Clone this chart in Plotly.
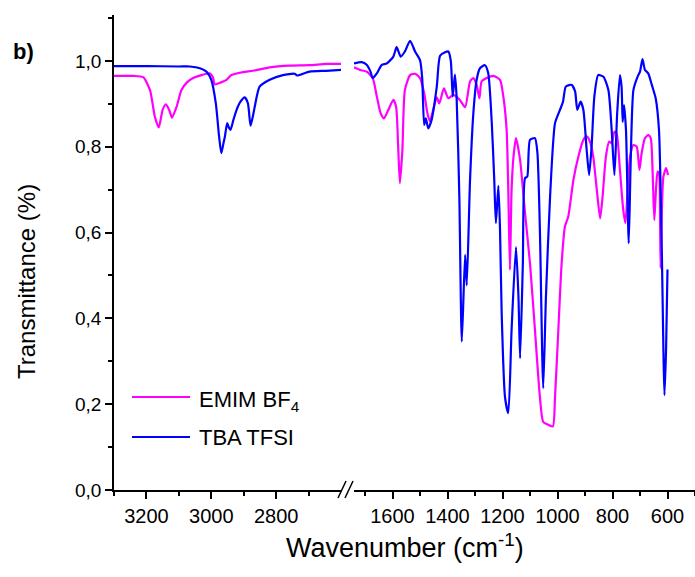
import plotly.graph_objects as go

# ---------------- data ----------------
# High-wavenumber panel (3300-2600 cm-1)
emim_hi_wn = [3300, 3240, 3210, 3189, 3174, 3162, 3150, 3140, 3130, 3121, 3107, 3092, 3075, 3056,
              3030, 3005, 2995, 2989, 2970, 2953, 2938, 2902, 2871, 2820, 2758, 2697, 2646, 2600]
emim_hi_t = [0.965, 0.965, 0.962, 0.932, 0.870, 0.845, 0.886, 0.899, 0.886, 0.868, 0.893, 0.932, 0.950, 0.960,
             0.967, 0.971, 0.962, 0.945, 0.950, 0.956, 0.967, 0.974, 0.977, 0.985, 0.989, 0.990, 0.993, 0.993]

tba_hi_wn = [3300, 3200, 3100, 3066, 3035, 3015, 3000, 2986, 2976, 2969, 2962, 2958, 2951, 2946, 2941,
             2932, 2922, 2910, 2897, 2887, 2879, 2872, 2866, 2851, 2820, 2779, 2743, 2735, 2697, 2646, 2600]
tba_hi_t = [0.988, 0.988, 0.987, 0.987, 0.983, 0.975, 0.956, 0.901, 0.824, 0.785, 0.810, 0.824, 0.855, 0.845, 0.839,
            0.862, 0.886, 0.905, 0.915, 0.901, 0.849, 0.870, 0.893, 0.940, 0.956, 0.967, 0.970, 0.966, 0.975, 0.977, 0.979]

# Fingerprint panel (1740-600 cm-1)
emim_lo_wn = [1740, 1718, 1694, 1672, 1657, 1643, 1631, 1615, 1597, 1587, 1579, 1573, 1564, 1555, 1536, 1518,
              1500, 1485, 1473, 1464, 1452, 1439, 1430, 1413, 1397, 1379, 1355, 1336, 1318, 1306, 1294, 1284,
              1276, 1257, 1233, 1209, 1197, 1185, 1179, 1173, 1167, 1160, 1151, 1136, 1118, 1100, 1082, 1064,
              1052, 1033, 1017, 1009, 997, 985, 973, 961, 942, 924, 906, 894, 882, 870, 857, 845, 836, 824,
              812, 803, 793, 785, 773, 761, 753, 745, 736, 724, 712, 702, 694, 682, 670, 661, 654, 648, 642,
              636, 631, 627, 625, 621, 615, 605, 598]
emim_lo_t = [0.985, 0.979, 0.975, 0.960, 0.917, 0.878, 0.866, 0.886, 0.909, 0.893, 0.793, 0.715, 0.793, 0.932, 0.967, 0.970,
             0.960, 0.925, 0.878, 0.859, 0.886, 0.915, 0.901, 0.936, 0.913, 0.921, 0.909, 0.892, 0.952, 0.960, 0.944, 0.913,
             0.952, 0.960, 0.965, 0.956, 0.917, 0.839, 0.700, 0.513, 0.700, 0.777, 0.820, 0.769, 0.645, 0.528, 0.373, 0.217,
             0.159, 0.152, 0.148, 0.217, 0.373, 0.528, 0.614, 0.637, 0.723, 0.777, 0.816, 0.824, 0.812, 0.777, 0.699, 0.633, 0.684, 0.777,
             0.812, 0.808, 0.835, 0.831, 0.746, 0.653, 0.622, 0.699, 0.777, 0.804, 0.800, 0.746, 0.785, 0.820, 0.827, 0.820, 0.738, 0.629, 0.699,
             0.742, 0.738, 0.622, 0.517, 0.637, 0.730, 0.750, 0.734]

tba_lo_wn = [1740, 1712, 1694, 1680, 1672, 1657, 1639, 1621, 1597, 1585, 1570, 1555, 1536, 1518, 1500, 1492,
             1485, 1479, 1470, 1458, 1439, 1427, 1409, 1397, 1388, 1381, 1373, 1367, 1357, 1348, 1336, 1330,
             1318, 1306, 1294, 1282, 1264, 1252, 1239, 1230, 1224, 1215, 1209, 1203, 1191, 1179, 1167, 1151,
             1142, 1136, 1126, 1118, 1110, 1100, 1082, 1073, 1064, 1052, 1042, 1027, 1009, 991, 980, 970, 955,
             948, 936, 928, 916, 906, 894, 885, 876, 866, 852, 833, 815, 803, 793, 783, 773, 767, 763, 758,
             751, 741, 734, 724, 709, 700, 691, 682, 670, 657, 643, 631, 621, 611, 605, 600]
tba_lo_t = [0.994, 0.997, 0.991, 0.975, 0.960, 0.971, 0.991, 0.994, 1.010, 1.032, 1.010, 1.022, 1.047, 1.022, 1.002, 0.960,
            0.851, 0.866, 0.843, 0.862, 0.940, 1.012, 1.020, 1.022, 1.000, 0.917, 0.968, 0.917, 0.684, 0.346, 0.548, 0.477,
            0.723, 0.878, 0.956, 0.983, 0.990, 0.972, 0.855, 0.723, 0.622, 0.709, 0.606, 0.412, 0.217, 0.179, 0.373, 0.566,
            0.451, 0.307, 0.528, 0.727, 0.730, 0.816, 0.820, 0.785, 0.606, 0.237, 0.451, 0.684, 0.855, 0.886, 0.905, 0.940, 0.944,
            0.944, 0.929, 0.886, 0.905, 0.886, 0.793, 0.734, 0.800, 0.917, 0.967, 0.963, 0.932, 0.839, 0.734, 0.878, 0.967, 0.940, 0.858, 0.897,
            0.839, 0.575, 0.762, 0.932, 0.963, 0.975, 1.004, 0.979, 0.971, 0.944, 0.913, 0.839, 0.567, 0.221, 0.334, 0.514]

series_names = ["EMIM BF<sub>4</sub>", "TBA TFSI"]
colors = ["#FF00FF", "#0000FF"]

hi_major = [3200, 3000, 2800]
hi_minor = [3300, 3100, 2900, 2700]
lo_major = [1600, 1400, 1200, 1000, 800, 600]
lo_minor = [1700, 1500, 1300, 1100, 900, 700, 500]
y_major = [0.0, 0.2, 0.4, 0.6, 0.8, 1.0]

FONT = "Liberation Sans, Arial, sans-serif"

# ---------------- figure ----------------
W, H = 695, 577
ML, MR, MT, MB = 114, 0, 15, 87
PW, PH = W - ML - MR, H - MT - MB


def px_x(px):
    return (px - ML) / PW


def px_y(py):
    return (H - MB - py) / PH


fig = go.Figure()
for wn, t, c in [(emim_hi_wn, emim_hi_t, colors[0]), (tba_hi_wn, tba_hi_t, colors[1])]:
    fig.add_trace(go.Scatter(x=wn, y=t, mode="lines", line=dict(color=c, width=2.2, shape="spline", smoothing=0.6),
                             xaxis="x", yaxis="y", showlegend=False, hoverinfo="skip"))
for wn, t, c in [(emim_lo_wn, emim_lo_t, colors[0]), (tba_lo_wn, tba_lo_t, colors[1])]:
    fig.add_trace(go.Scatter(x=wn, y=t, mode="lines", line=dict(color=c, width=2.2, shape="spline", smoothing=0.6),
                             xaxis="x2", yaxis="y", showlegend=False, hoverinfo="skip"))

axis_common = dict(showline=True, linecolor="black", linewidth=1.5, ticks="outside", ticklen=7,
                   tickwidth=1.5, tickcolor="black", showgrid=False, zeroline=False)
xfont = dict(family=FONT, size=20, color="black")
yfont = dict(family=FONT, size=19, color="black")

fig.update_layout(
    width=W, height=H,
    margin=dict(l=ML, r=MR, t=MT, b=MB),
    paper_bgcolor="white", plot_bgcolor="white",
    separators=",.",
    showlegend=False,
    xaxis=dict(domain=[0, px_x(341)], range=[3300, 2600], tickvals=hi_major, anchor="y", tickfont=xfont,
               minor=dict(tickvals=hi_minor, ticks="outside", ticklen=4, tickwidth=1.5, tickcolor="black"),
               **axis_common),
    xaxis2=dict(domain=[px_x(354), 1], range=[1740, 500], tickvals=lo_major, anchor="y", tickfont=xfont,
                minor=dict(tickvals=lo_minor, ticks="outside", ticklen=4, tickwidth=1.5, tickcolor="black"),
                **axis_common),
    yaxis=dict(range=[0, 1.107], tickvals=y_major, tickformat=".1f", tickfont=yfont,
               minor=dict(dtick=0.1, ticks="outside", ticklen=4, tickwidth=1.5, tickcolor="black"),
               **axis_common),
)

# break marks on the x axis
for x0 in (338, 345):
    fig.add_shape(type="line", xref="paper", yref="paper",
                  x0=px_x(x0), y0=px_y(498), x1=px_x(x0 + 8), y1=px_y(481),
                  line=dict(color="black", width=1.5))

annos = [
    dict(text="Transmittance (%)", x=px_x(27), y=px_y(282), textangle=-90, size=24),
    dict(text="Wavenumber (cm<sup>-1</sup>)", x=px_x(405), y=px_y(546), size=27),
    dict(text="<b>b)</b>", x=px_x(23), y=px_y(52), size=22),
]
for a in annos:
    fig.add_annotation(xref="paper", yref="paper", showarrow=False, xanchor="center", yanchor="middle",
                       text=a["text"], x=a["x"], y=a["y"], textangle=a.get("textangle", 0),
                       font=dict(family=FONT, color="black", size=a["size"]))

# legend drawn as annotations + sample lines
for name, c, ly in zip(series_names, colors, (397, 437)):
    fig.add_shape(type="line", xref="paper", yref="paper", x0=px_x(132), x1=px_x(190),
                  y0=px_y(ly), y1=px_y(ly), line=dict(color=c, width=2.2))
    fig.add_annotation(xref="paper", yref="paper", showarrow=False, xanchor="left", yanchor="middle",
                       x=px_x(197), y=px_y(ly + (4 if "sub" in name else 0)), text=name,
                       font=dict(family=FONT, color="black", size=22))

fig.write_html("out.html")
